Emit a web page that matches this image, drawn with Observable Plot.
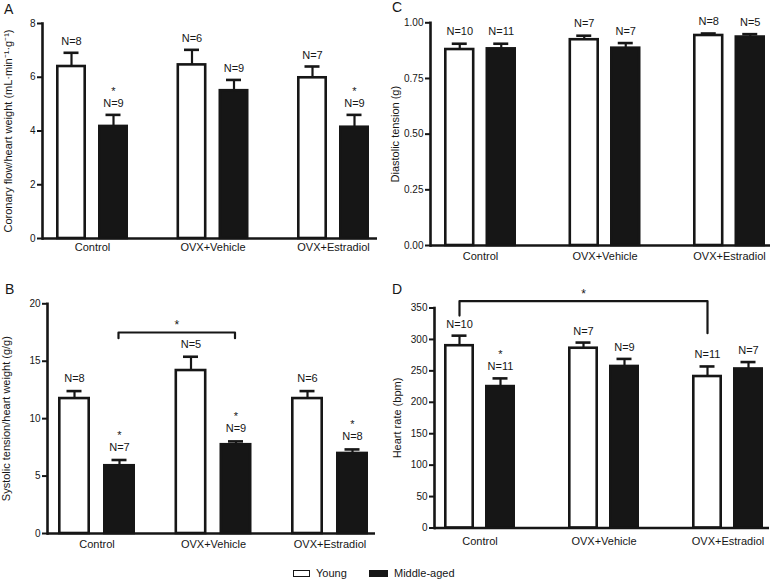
<!DOCTYPE html>
<html>
<head>
<meta charset="utf-8">
<script src="https://cdn.jsdelivr.net/npm/d3@7"></script>
<script src="https://cdn.jsdelivr.net/npm/@observablehq/plot@0.6"></script>
<style>
  body { margin: 0; background: #fff; }
  #root { position: relative; width: 771px; height: 580px; overflow: hidden;
          font-family: Arial, "Liberation Sans", Helvetica, sans-serif; color: #161616; }
  .pan { position: absolute; }
  .letter { position: absolute; font-size: 14px; line-height: 14px; }
  .leg { position: absolute; font-size: 11px; line-height: 12px; }
  .sw { position: absolute; box-sizing: border-box; }
</style>
</head>
<body>
<div id="root"></div>
<script>
const groups = ["Control", "OVX+Vehicle", "OVX+Estradiol"];
const ageGroups = ["Young", "Middle-aged"];

// Panel A: coronary flow / heart weight
const flowYoung = [6.40, 6.46, 5.98];
const flowYoungErr = [0.51, 0.56, 0.42];
const flowMid = [4.17, 5.50, 4.14];
const flowMidErr = [0.43, 0.40, 0.46];
const flowYoungN = [8, 6, 7];
const flowMidN = [9, 9, 9];
const flowMidSig = [true, false, true];
const flowTicks = [0, 2, 4, 6, 8];

// Panel C: diastolic tension
const diaYoung = [0.880, 0.924, 0.943];
const diaYoungErr = [0.026, 0.018, 0.009];
const diaMid = [0.883, 0.886, 0.936];
const diaMidErr = [0.023, 0.023, 0.013];
const diaYoungN = [10, 7, 8];
const diaMidN = [11, 7, 5];
const diaMidSig = [false, false, false];
const diaTicks = [0, 0.25, 0.5, 0.75, 1];

// Panel B: systolic tension / heart weight
const sysYoung = [11.75, 14.19, 11.75];
const sysYoungErr = [0.65, 1.2, 0.65];
const sysMid = [5.9, 7.73, 6.97];
const sysMidErr = [0.5, 0.29, 0.35];
const sysYoungN = [8, 5, 6];
const sysMidN = [7, 9, 8];
const sysMidSig = [true, true, true];
const sysTicks = [0, 5, 10, 15, 20];
const sysBracketGroups = ["Control", "Control", "OVX+Vehicle", "OVX+Vehicle"];
const sysBracketValues = [17.0, 17.5, 17.5, 17.0];

// Panel D: heart rate
const hrYoung = [290, 286, 241];
const hrYoungErr = [16, 9, 16];
const hrMid = [225, 257, 253];
const hrMidErr = [13, 12, 11];
const hrYoungN = [10, 7, 11];
const hrMidN = [11, 9, 7];
const hrMidSig = [true, false, false];
const hrTicks = [0, 50, 100, 150, 200, 250, 300, 350];
const hrBracketGroups = ["Control", "Control", "OVX+Estradiol", "OVX+Estradiol"];
const hrBracketValues = [338, 361, 361, 310];

const INK = "#161616";

function buildPanel(cfg) {
  const young = groups.map((g, i) => ({group: g, v: cfg.young[i], e: cfg.youngErr[i], n: cfg.youngN[i]}));
  const mid = groups.map((g, i) => ({group: g, v: cfg.mid[i], e: cfg.midErr[i], n: cfg.midN[i], sig: cfg.midSig[i]}));
  const [r0, r1] = cfg.range;
  const L = r1 - r0, bw = cfg.bw, barW = cfg.barW, sw = 2.6, cap = 15;
  const pi = (L - 3 * bw) / (L - bw);
  const step = L / (3 - pi);
  const off = (bw - barW) / 2;
  const top = d => d.v + d.e;
  const marks = [
    Plot.barY(young, {x: "group", y: "v", fill: "white", stroke: INK, strokeWidth: sw,
      insetLeft: sw / 2, insetRight: bw - barW + sw / 2}),
    Plot.barY(mid, {x: "group", y: "v", fill: INK, stroke: INK, strokeWidth: sw,
      insetLeft: bw - barW + sw / 2, insetRight: sw / 2}),
    Plot.ruleX(young, {x: "group", y1: "v", y2: top, dx: -off, stroke: INK, strokeWidth: 2.2}),
    Plot.ruleX(mid, {x: "group", y1: "v", y2: top, dx: off, stroke: INK, strokeWidth: 2.2}),
    Plot.tickY(young, {x: "group", y: top, stroke: INK, strokeWidth: 2.6,
      insetLeft: barW / 2 - cap / 2, insetRight: bw - barW / 2 - cap / 2}),
    Plot.tickY(mid, {x: "group", y: top, stroke: INK, strokeWidth: 2.6,
      insetLeft: bw - barW / 2 - cap / 2, insetRight: barW / 2 - cap / 2}),
    Plot.text(young, {x: "group", y: top, text: d => "N=" + d.n, dx: -off, dy: cfg.nDy, fontSize: 11, fill: INK}),
    Plot.text(mid, {x: "group", y: top, text: d => "N=" + d.n, dx: off, dy: cfg.nDy, fontSize: 11, fill: INK}),
    Plot.text(mid.filter(d => d.sig), {x: "group", y: top, text: () => "*", dx: off, dy: cfg.nDy - 12.5, fontSize: 11, fill: INK}),
    Plot.ruleY([0], {stroke: INK, strokeWidth: 2.6}),
    Plot.frame({anchor: "left", stroke: INK, strokeWidth: 2.6}),
    Plot.axisY({ticks: cfg.ticks, tickFormat: cfg.fmt, tickSize: 5, tickPadding: 2, fontSize: 10,
      strokeWidth: 2, color: INK, label: null}),
    Plot.axisX({tickSize: 0, tickPadding: cfg.xPad, fontSize: 11, color: INK, label: null}),
    Plot.text([cfg.ylabel], {text: d => d, frameAnchor: "left", rotate: -90, textAnchor: "middle",
      lineAnchor: "middle", dx: cfg.labelDx, fontSize: 11, fill: INK})
  ];
  if (cfg.bracketGroups) {
    const br = cfg.bracketGroups.map((g, i) => ({group: g, v: cfg.bracketValues[i]}));
    const bdx = cfg.bracketSide === "young" ? -off : off + cfg.bracketShift;
    marks.push(Plot.line(br, {x: "group", y: "v", dx: bdx, stroke: INK, strokeWidth: 2.2}));
    marks.push(Plot.text([{group: cfg.starGroup, v: cfg.bracketValues[1]}], {x: "group", y: "v", text: () => "*",
      dx: cfg.starDx(step, off), dy: -7, fontSize: 12, fill: INK}));
  }
  return Plot.plot({
    width: cfg.width, height: cfg.height,
    marginLeft: cfg.ml, marginRight: cfg.mr, marginTop: cfg.mt, marginBottom: cfg.mb,
    style: {fontFamily: 'Arial, "Liberation Sans", Helvetica, sans-serif', background: "white", overflow: "visible"},
    x: {domain: groups, range: cfg.range, paddingInner: pi, paddingOuter: 0, round: false, axis: null},
    y: {domain: cfg.ydomain, axis: null},
    marks
  });
}

const panels = [
  {id: "A", left: 0, top: 0, width: 385, height: 262, ml: 42, mr: 8, mt: 23, mb: 24,
   range: [56, 369], bw: 72, barW: 30, ydomain: [0, 8], ticks: flowTicks, fmt: d3.format("d"),
   young: flowYoung, youngErr: flowYoungErr, mid: flowMid, midErr: flowMidErr,
   youngN: flowYoungN, midN: flowMidN, midSig: flowMidSig, nDy: -11, xPad: 5,
   ylabel: "Coronary flow/heart weight (mL\u00b7min\u207b\u00b9\u00b7g\u207b\u00b9)", labelDx: -34},
  {id: "C", left: 385, top: 0, width: 386, height: 265, ml: 45, mr: 1, mt: 22.3, mb: 20,
   range: [59, 380], bw: 72, barW: 30.5, ydomain: [0, 1], ticks: diaTicks, fmt: d3.format(".2f"),
   young: diaYoung, youngErr: diaYoungErr, mid: diaMid, midErr: diaMidErr,
   youngN: diaYoungN, midN: diaMidN, midSig: diaMidSig, nDy: -12, xPad: 7,
   ylabel: "Diastolic tension (g)", labelDx: -35},
  {id: "B", left: 0, top: 260, width: 385, height: 300, ml: 47, mr: 10, mt: 43.3, mb: 27,
   range: [58, 368], bw: 77, barW: 32, ydomain: [0, 20], ticks: sysTicks, fmt: d3.format("d"),
   young: sysYoung, youngErr: sysYoungErr, mid: sysMid, midErr: sysMidErr,
   youngN: sysYoungN, midN: sysMidN, midSig: sysMidSig, nDy: -12.5, xPad: 7,
   ylabel: "Systolic tension/heart weight (g/g)", labelDx: -41,
   bracketGroups: sysBracketGroups, bracketValues: sysBracketValues, bracketSide: "mid", bracketShift: -1,
   starGroup: "OVX+Vehicle", starDx: (step, off) => -step / 2 + off - 1},
  {id: "D", left: 385, top: 260, width: 386, height: 300, ml: 49, mr: 2, mt: 47.5, mb: 32.5,
   range: [59, 378], bw: 71, barW: 30, ydomain: [0, 350], ticks: hrTicks, fmt: d3.format("d"),
   young: hrYoung, youngErr: hrYoungErr, mid: hrMid, midErr: hrMidErr,
   youngN: hrYoungN, midN: hrMidN, midSig: hrMidSig, nDy: -11.5, xPad: 9,
   ylabel: "Heart rate (bpm)", labelDx: -37,
   bracketGroups: hrBracketGroups, bracketValues: hrBracketValues, bracketSide: "young", bracketShift: 0,
   starGroup: "OVX+Vehicle", starDx: (step, off) => -off}
];

const root = document.getElementById("root");
const letterPos = {A: [4, 1.5], B: [5, 281.5], C: [392, 0], D: [392, 281.5]};
for (const cfg of panels) {
  const wrap = document.createElement("div");
  wrap.className = "pan";
  wrap.style.left = cfg.left + "px";
  wrap.style.top = cfg.top + "px";
  wrap.appendChild(buildPanel(cfg));
  root.appendChild(wrap);
}
for (const cfg of panels) {
  const l = document.createElement("div");
  l.className = "letter";
  l.textContent = cfg.id;
  l.style.left = letterPos[cfg.id][0] + "px";
  l.style.top = letterPos[cfg.id][1] + "px";
  root.appendChild(l);
}
// legend
const legendItems = [
  {label: ageGroups[0], x: 293, w: 17, fill: "#fff"},
  {label: ageGroups[1], x: 369, w: 19, fill: INK}
];
for (const it of legendItems) {
  const s = document.createElement("div");
  s.className = "sw";
  s.style.left = it.x + "px"; s.style.top = "570px";
  s.style.width = it.w + "px"; s.style.height = "7px";
  s.style.background = it.fill; s.style.border = "1.5px solid " + INK;
  root.appendChild(s);
  const t = document.createElement("div");
  t.className = "leg";
  t.textContent = it.label;
  t.style.left = (it.x + it.w + 6) + "px"; t.style.top = "567px";
  root.appendChild(t);
}
</script>
</body>
</html>
